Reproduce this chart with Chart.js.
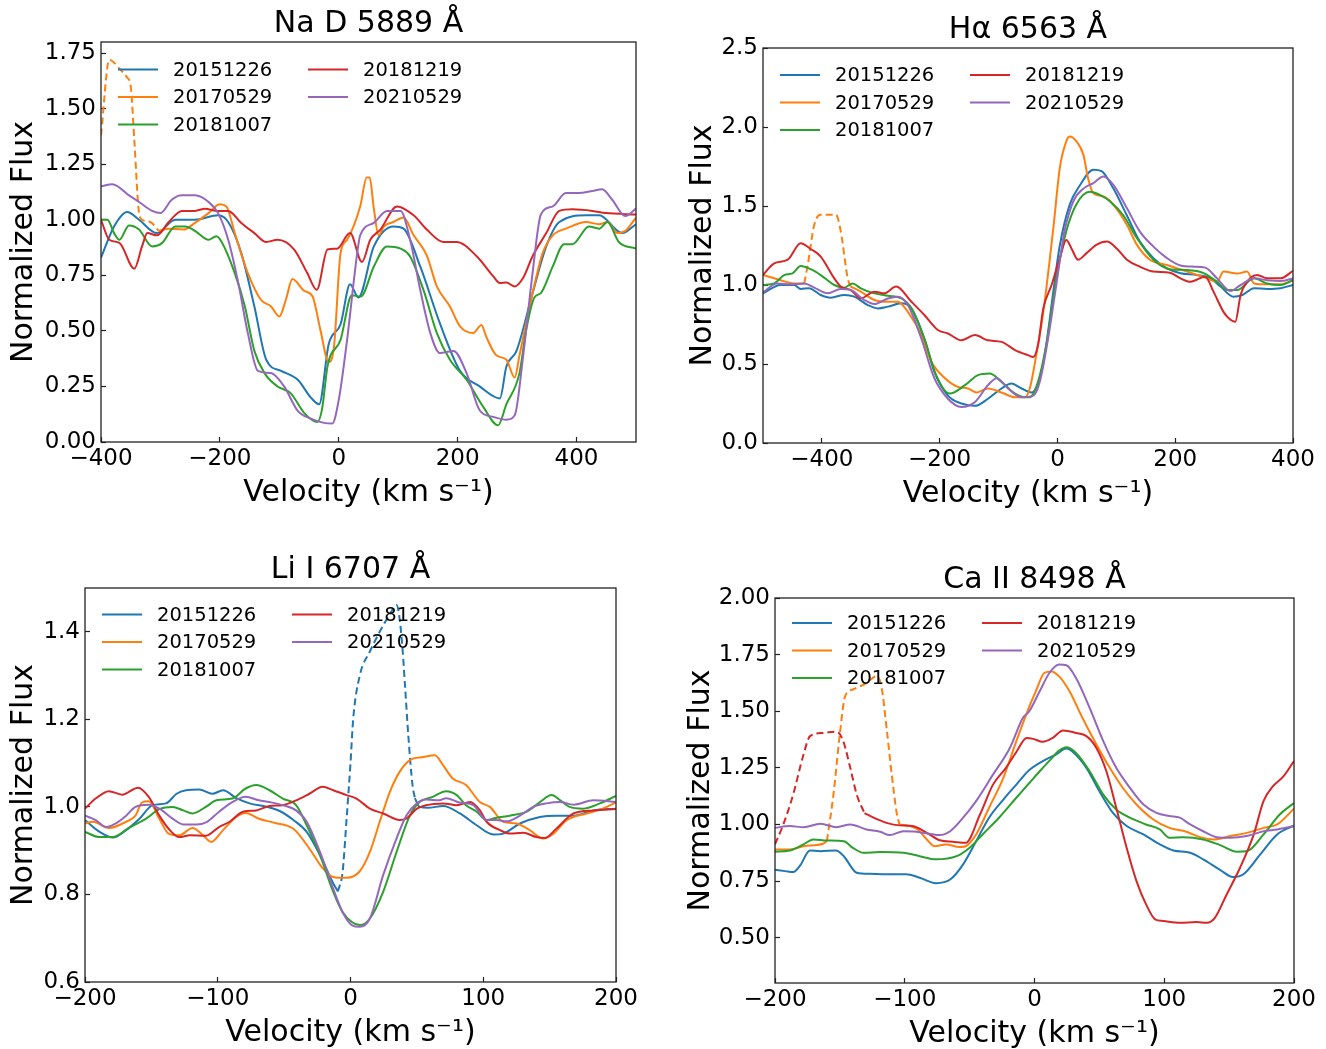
<!DOCTYPE html>
<html>
<head>
<meta charset="utf-8">
<script src="https://cdn.jsdelivr.net/npm/chart.js@4.4.1/dist/chart.umd.min.js"></script>
<style>
  body { margin: 0; background: #fff; width: 1326px; height: 1049px; overflow: hidden; position: relative; }
  canvas { position: absolute; }
</style>
</head>
<body>
<canvas id="naChart"></canvas>
<canvas id="haChart"></canvas>
<canvas id="liChart"></canvas>
<canvas id="caChart"></canvas>
<script>
"use strict";
// observation dates (legend)
const dates = ["20151226", "20170529", "20181007", "20181219", "20210529"];

// ---- Na D 5889 A : [velocity, flux]
const naBlue = [[-400,0.83],[-378,0.97],[-356,1.035],[-336,1.0],[-306,0.94],[-275,1.0],[-242,1.0],[-203,1.02],[-186,0.99],[-164,0.85],[-142,0.61],[-122,0.37],[-97,0.32],[-69,0.28],[-47,0.2],[-33,0.17],[-17,0.44],[3,0.53],[19,0.71],[33,0.65],[59,0.88],[92,0.97],[109,0.96],[137,0.79],[170,0.535],[204,0.32],[237,0.25],[271,0.196],[282,0.34],[299,0.41],[326,0.67],[349,0.88],[371,0.99],[416,1.02],[438,1.02],[477,0.94],[500,0.98]];
const naOrangeDash = [[-400,1.38],[-386,1.72],[-369,1.68],[-356,1.64],[-350,1.6],[-344,1.36],[-336,1.03],[-331,1.0],[-317,0.99],[-303,0.95]];
const naOrange = [[-303,0.95],[-286,0.96],[-261,0.956],[-242,0.986],[-219,1.03],[-200,1.07],[-189,1.06],[-175,0.94],[-153,0.76],[-131,0.64],[-114,0.61],[-100,0.565],[-89,0.64],[-78,0.733],[-58,0.68],[-44,0.655],[-31,0.505],[-17,0.36],[-8,0.43],[3,0.85],[14,0.91],[36,1.06],[47,1.19],[52,1.19],[59,1.05],[67,0.93],[76,0.97],[92,0.99],[109,1.01],[126,0.93],[148,0.84],[165,0.7],[187,0.61],[204,0.52],[226,0.49],[240,0.527],[248,0.474],[265,0.39],[282,0.37],[296,0.29],[304,0.39],[326,0.67],[343,0.85],[360,0.93],[382,0.96],[416,0.99],[438,0.98],[452,0.99],[469,0.94],[482,0.95],[500,1.01]];
const naGreen = [[-400,1.0],[-389,1.0],[-378,0.94],[-369,0.91],[-353,0.974],[-336,0.956],[-314,0.88],[-297,0.896],[-275,0.97],[-258,0.97],[-242,0.95],[-219,0.91],[-206,0.926],[-197,0.9],[-175,0.76],[-158,0.61],[-142,0.41],[-125,0.31],[-103,0.25],[-81,0.22],[-58,0.13],[-36,0.09],[-28,0.15],[-19,0.34],[3,0.46],[22,0.66],[37,0.655],[59,0.79],[81,0.88],[104,0.87],[120,0.835],[143,0.68],[165,0.49],[187,0.37],[215,0.28],[243,0.158],[268,0.075],[282,0.17],[304,0.31],[315,0.5],[329,0.65],[340,0.67],[360,0.79],[379,0.89],[393,0.89],[421,0.97],[438,0.96],[452,0.99],[471,0.9],[500,0.87]];
const naRed = [[-400,1.0],[-386,0.91],[-369,0.896],[-344,0.78],[-331,0.88],[-322,0.94],[-306,0.93],[-286,0.99],[-264,1.04],[-242,1.04],[-225,1.05],[-206,1.04],[-186,1.04],[-164,0.986],[-142,0.94],[-122,0.9],[-103,0.91],[-75,0.866],[-53,0.76],[-37,0.685],[-19,0.866],[-3,0.87],[19,0.94],[39,0.81],[53,0.91],[70,0.956],[98,1.06],[126,1.02],[148,0.956],[176,0.9],[198,0.9],[232,0.836],[260,0.745],[271,0.715],[282,0.718],[296,0.7],[310,0.738],[326,0.836],[349,0.94],[371,1.04],[393,1.047],[427,1.04],[449,1.03],[500,1.024]];
const naPurple = [[-400,1.15],[-381,1.16],[-353,1.11],[-336,1.08],[-314,1.04],[-300,1.03],[-281,1.09],[-264,1.11],[-242,1.11],[-219,1.08],[-203,1.03],[-186,0.91],[-169,0.715],[-153,0.49],[-136,0.32],[-114,0.31],[-92,0.25],[-69,0.14],[-47,0.105],[-25,0.086],[-11,0.083],[0,0.19],[14,0.46],[31,0.85],[36,0.93],[59,0.986],[81,1.04],[104,1.04],[120,0.91],[137,0.685],[154,0.49],[170,0.4],[193,0.41],[215,0.31],[237,0.143],[260,0.113],[282,0.1],[296,0.12],[310,0.384],[326,0.76],[340,1.024],[360,1.06],[382,1.12],[404,1.12],[427,1.13],[443,1.137],[460,1.09],[482,1.017],[500,1.05]];

// ---- H alpha 6563 A
const haBlue = [[-500,0.947],[-470,1.0],[-447,1.0],[-436,0.975],[-422,0.98],[-402,0.937],[-385,0.92],[-362,0.937],[-345,0.926],[-322,0.873],[-305,0.852],[-288,0.863],[-265,0.884],[-248,0.852],[-226,0.66],[-209,0.45],[-186,0.3],[-163,0.25],[-140,0.235],[-118,0.28],[-95,0.345],[-78,0.376],[-61,0.345],[-44,0.32],[-30,0.41],[-19,0.62],[-7,0.96],[4,1.25],[21,1.51],[38,1.63],[61,1.73],[75,1.72],[95,1.61],[118,1.44],[140,1.275],[163,1.17],[186,1.105],[209,1.074],[237,1.063],[260,1.042],[277,0.99],[299,0.926],[314,0.937],[334,0.98],[356,0.975],[379,0.98],[400,1.0]];
const haOrange = [[-500,1.063],[-470,1.03],[-447,1.01],[-430,1.01],[-428,null],[-351,0.99],[-334,0.958],[-311,0.905],[-288,0.894],[-271,0.894],[-254,0.83],[-231,0.683],[-214,0.514],[-191,0.41],[-169,0.355],[-152,0.345],[-137,0.32],[-118,0.345],[-95,0.32],[-72,0.29],[-55,0.29],[-47,0.345],[-36,0.556],[-24,0.83],[-7,1.36],[4,1.74],[15,1.91],[21,1.94],[32,1.91],[44,1.825],[52,1.676],[61,1.58],[78,1.56],[95,1.507],[118,1.38],[135,1.254],[157,1.16],[186,1.127],[220,1.085],[254,1.042],[271,1.02],[282,1.085],[305,1.072],[322,1.085],[334,1.01],[356,1.004],[379,1.004],[400,1.03]];
const haOrangeDash = [[-430,1.01],[-424,1.127],[-413,1.38],[-402,1.444],[-376,1.444],[-368,1.34],[-356,1.04],[-351,0.99]];
const haGreen = [[-500,1.0],[-481,1.01],[-464,1.063],[-450,1.074],[-436,1.12],[-419,1.1],[-402,1.063],[-379,1.0],[-362,0.983],[-348,1.01],[-334,0.979],[-311,0.947],[-288,0.932],[-265,0.915],[-248,0.852],[-226,0.66],[-206,0.43],[-183,0.313],[-157,0.366],[-135,0.43],[-115,0.44],[-95,0.387],[-72,0.313],[-55,0.29],[-47,0.29],[-33,0.387],[-19,0.62],[-2,1.04],[15,1.34],[32,1.51],[55,1.59],[72,1.57],[89,1.53],[112,1.44],[135,1.296],[163,1.16],[191,1.1],[220,1.095],[249,1.074],[271,1.02],[288,0.968],[305,0.968],[334,1.042],[356,1.01],[379,1.0],[400,1.03]];
const haRed = [[-500,1.063],[-481,1.137],[-458,1.16],[-436,1.264],[-419,1.228],[-402,1.18],[-379,1.042],[-368,0.99],[-351,0.968],[-334,0.915],[-311,0.958],[-294,0.947],[-274,0.99],[-248,0.894],[-226,0.81],[-203,0.715],[-186,0.693],[-163,0.65],[-140,0.683],[-118,0.65],[-95,0.64],[-72,0.588],[-50,0.556],[-41,0.545],[-33,0.62],[-24,0.852],[-10,1.0],[4,1.17],[15,1.285],[24,1.23],[35,1.16],[49,1.2],[66,1.254],[84,1.275],[101,1.23],[118,1.16],[140,1.116],[163,1.085],[191,1.078],[209,1.042],[226,1.02],[251,1.053],[265,0.958],[282,0.83],[291,0.789],[302,0.767],[311,0.937],[322,1.02],[339,1.063],[356,1.042],[379,1.042],[400,1.09]];
const haPurple = [[-500,0.953],[-476,1.01],[-453,1.004],[-430,1.01],[-413,0.983],[-390,0.947],[-368,0.975],[-351,0.968],[-328,0.905],[-311,0.88],[-288,0.915],[-271,0.926],[-254,0.873],[-231,0.66],[-209,0.41],[-186,0.28],[-163,0.228],[-140,0.26],[-118,0.366],[-103,0.41],[-84,0.345],[-61,0.29],[-41,0.3],[-30,0.387],[-16,0.66],[-2,1.0],[12,1.34],[27,1.53],[44,1.61],[61,1.645],[78,1.687],[95,1.634],[118,1.486],[140,1.338],[163,1.243],[186,1.17],[209,1.123],[232,1.116],[251,1.11],[271,1.042],[294,0.962],[311,1.0],[334,1.042],[356,1.03],[379,1.025],[400,1.042]];

// ---- Li I 6707 A
const liBlue = [[-200,0.97],[-189,0.943],[-179,0.93],[-169,0.947],[-159,0.973],[-149,1.004],[-139,1.008],[-131,1.03],[-124,1.038],[-114,1.04],[-104,1.03],[-96,1.038],[-86,1.02],[-76,1.008],[-63,1.0],[-53,0.99],[-43,0.97],[-33,0.943],[-23,0.89],[-13,0.825],[-9.5,0.807],[-5,null],[48.5,1.02],[52,1.0],[58.5,0.998],[69.8,1.002],[82.4,0.985],[95,0.958],[107.5,0.937],[115,0.939],[127.6,0.962],[142.7,0.977],[155,0.98],[168,0.98],[183,0.992],[200,0.996]];
const liBlueDash = [[-9.5,0.807],[-6,0.85],[-3,0.97],[0,1.1],[2,1.2],[7,1.3],[14.6,1.355],[22,1.4],[29.6,1.44],[34.7,1.461],[38.4,1.39],[41,1.28],[43.5,1.165],[46.7,1.05],[48.5,1.02]];
const liOrange = [[-200,0.962],[-194,0.966],[-182,0.952],[-169,0.966],[-162,0.98],[-157,1.01],[-152,1.013],[-144,0.973],[-137,0.939],[-129,0.935],[-119,0.952],[-111,0.935],[-105,0.92],[-96,0.947],[-86,0.977],[-79,0.986],[-69,0.973],[-58,0.964],[-43,0.95],[-31,0.905],[-21,0.86],[-13,0.84],[-3,0.838],[7,0.853],[14.6,0.897],[22,0.966],[29.6,1.034],[37,1.08],[44.7,1.107],[54.8,1.114],[63.6,1.118],[69.8,1.095],[77,1.065],[87,1.05],[97.5,1.011],[105,1.0],[115,0.966],[125,0.962],[135,0.947],[145,0.928],[153,0.939],[163,0.97],[178,0.985],[190,0.996],[200,1.01]];
const liGreen = [[-200,0.943],[-189,0.931],[-179,0.931],[-167,0.952],[-154,0.973],[-144,0.995],[-134,1.0],[-126,0.992],[-119,0.985],[-109,1.0],[-101,1.015],[-89,1.019],[-79,1.042],[-71,1.05],[-61,1.038],[-51,1.019],[-41,1.004],[-33,0.958],[-23,0.89],[-13,0.806],[-6,0.76],[1,0.737],[7,0.73],[14.6,0.745],[24.6,0.806],[34.7,0.897],[44.7,0.98],[52,1.011],[62,1.023],[72,1.036],[80,1.027],[87,1.004],[95,0.989],[102.5,0.97],[110,0.975],[120,0.98],[132.7,0.989],[142.7,1.011],[151.5,1.027],[158,1.015],[165,1.0],[175,0.996],[188,1.008],[200,1.025]];
const liRed = [[-200,0.996],[-192,1.019],[-182,1.036],[-172,1.028],[-160,1.044],[-152,1.023],[-144,0.98],[-137,0.95],[-129,0.931],[-121,0.935],[-109,0.934],[-99,0.954],[-91,0.966],[-81,0.989],[-71,0.992],[-61,1.002],[-51,1.004],[-41,1.015],[-31,1.03],[-21,1.046],[-13,1.038],[-3,1.027],[4.5,1.019],[14.6,0.996],[24.6,0.985],[37,0.97],[42,0.973],[50,0.996],[57,1.004],[70,1.008],[80,1.004],[90,1.011],[97.5,0.992],[102.5,0.966],[112.6,0.947],[120,0.939],[130,0.941],[140,0.931],[146.5,0.929],[155,0.95],[168,0.985],[183,0.992],[200,0.995]];
const liPurple = [[-200,0.98],[-192,0.97],[-184,0.954],[-177,0.962],[-169,0.98],[-162,1.0],[-152,1.005],[-144,0.996],[-134,0.973],[-126,0.96],[-116,0.96],[-108,0.966],[-99,0.989],[-89,1.011],[-79,1.023],[-69,1.015],[-61,1.011],[-51,1.004],[-41,0.992],[-33,0.966],[-23,0.897],[-13,0.813],[-6,0.76],[1,0.73],[7,0.726],[14.6,0.745],[24.6,0.844],[34.7,0.928],[42,0.98],[50,1.008],[57,1.017],[67,1.015],[72,1.02],[82,1.01],[92.5,1.004],[102.5,0.97],[110,0.97],[117.6,0.967],[127.6,0.98],[137.7,1.0],[147.7,1.008],[158,1.011],[168,1.005],[183,1.015],[200,1.011]];

// ---- Ca II 8498 A
const caBlue = [[-200,0.8],[-192,0.794],[-186,0.79],[-181,0.816],[-173,0.885],[-165,0.882],[-153,0.885],[-147,0.86],[-137,0.787],[-127,0.782],[-114,0.78],[-99,0.78],[-88.5,0.765],[-76,0.741],[-65,0.757],[-55,0.824],[-45,0.926],[-35,1.03],[-24,1.11],[-14,1.176],[-4,1.24],[6.4,1.28],[16.8,1.31],[24.5,1.335],[29.6,1.32],[40,1.25],[50,1.147],[60.6,1.05],[71,0.993],[84,0.956],[96.6,0.912],[107,0.885],[120,0.875],[130,0.846],[143,0.8],[153,0.768],[161,0.78],[174,0.868],[187,0.956],[200,0.995]];
const caOrange = [[-200,0.89],[-188.5,0.89],[-178,0.904],[-163,0.915],[-160,0.926],[-158,null],[-104,1.0],[-96,0.993],[-90,0.978],[-83,0.934],[-77,0.904],[-68,0.912],[-58,0.9],[-53,0.904],[-45,0.956],[-35,1.074],[-24,1.206],[-14,1.368],[-4,1.52],[1,1.588],[7.7,1.67],[13,1.676],[19,1.654],[27,1.588],[37,1.47],[47.7,1.353],[58,1.25],[68,1.162],[78.6,1.088],[91.5,1.022],[104,0.985],[117,0.968],[127.6,0.944],[138,0.934],[151,0.949],[163.6,0.963],[176.5,0.985],[187,1.0],[200,1.07]];
const caOrangeDash = [[-160,0.926],[-155,1.13],[-150,1.4],[-146,1.566],[-140,1.596],[-129.5,1.625],[-122,1.654],[-118,1.61],[-114,1.426],[-110,1.22],[-106,1.044],[-104,1.0]];
const caGreen = [[-200,0.88],[-188.5,0.885],[-178,0.912],[-170.5,0.934],[-160,0.929],[-147,0.926],[-140,0.897],[-132,0.875],[-119,0.878],[-101,0.875],[-88.5,0.86],[-76,0.846],[-60,0.86],[-50,0.897],[-40,0.956],[-27,1.032],[-14,1.118],[-4,1.183],[4,1.235],[11.6,1.282],[19,1.326],[24.5,1.341],[32,1.316],[42.5,1.235],[53,1.132],[63,1.066],[73.5,1.03],[86,1.0],[96.6,0.978],[104,0.941],[114.7,0.944],[130,0.934],[143,0.909],[156,0.88],[163.6,0.882],[176.5,0.956],[189,1.044],[200,1.095]];
const caRedDash = [[-200,0.912],[-193.6,1.0],[-186,1.132],[-178,1.309],[-173,1.39],[-163,1.404],[-152.6,1.41],[-147.4,1.368],[-142,1.25],[-137,1.132],[-131,1.05]];
const caRed = [[-131,1.05],[-124,1.03],[-114,1.007],[-104,0.996],[-94,0.993],[-83,0.963],[-73,0.93],[-63,0.924],[-53,0.919],[-42,1.044],[-32,1.176],[-22,1.25],[-14,1.32],[-6,1.382],[-1,1.378],[6.4,1.365],[14,1.382],[22,1.415],[32,1.404],[40,1.39],[47.7,1.338],[55.4,1.235],[63,1.074],[71,0.897],[78.6,0.75],[86,0.647],[93,0.581],[99,0.574],[112,0.566],[125,0.569],[132.7,0.566],[139,0.588],[148,0.69],[158.5,0.81],[169,0.956],[176.5,1.103],[184,1.17],[192,1.213],[200,1.28]];
const caPurple = [[-200,0.985],[-188.5,0.993],[-178,0.988],[-165,1.003],[-152.6,0.988],[-142,1.0],[-129.5,0.978],[-119,0.968],[-111.5,0.953],[-101,0.97],[-91,0.968],[-81,0.959],[-73,0.953],[-65,0.97],[-55,1.03],[-45,1.103],[-32,1.22],[-19,1.338],[-9,1.47],[-4,1.5],[4,1.588],[11.6,1.67],[19,1.706],[24.5,1.703],[32,1.647],[42.5,1.515],[53,1.368],[63,1.25],[73.5,1.162],[84,1.088],[94,1.051],[104,1.037],[112,1.03],[120,1.0],[130,0.97],[140.5,0.944],[151,0.941],[163.6,0.949],[176.5,0.97],[187,0.978],[200,0.993]];

// tick values
const naXTicks = [-400, -200, 0, 200, 400];
const naYTicks = [0, 0.25, 0.5, 0.75, 1.0, 1.25, 1.5, 1.75];
const haXTicks = [-400, -200, 0, 200, 400];
const haYTicks = [0, 0.5, 1.0, 1.5, 2.0, 2.5];
const liXTicks = [-200, -100, 0, 100, 200];
const liYTicks = [0.6, 0.8, 1.0, 1.2, 1.4];
const caXTicks = [-200, -100, 0, 100, 200];
const caYTicks = [0.5, 0.75, 1.0, 1.25, 1.5, 1.75, 2.0];

const COLORS = ["#1f77b4", "#ff7f0e", "#2ca02c", "#d62728", "#9467bd"];
const FONT = '"DejaVu Sans", sans-serif';
Chart.defaults.font.family = FONT;
Chart.defaults.color = "#000";

const TOP_H = 50;
const BOT_H = 66;

const pts = (arr) => arr.map(([x, y]) => ({ x, y }));
const fmt = (v, dec) => v.toFixed(dec).replace("-", "\u2212");

const makeLine = (arr, ci, dashed) => ({
    data: pts(arr),
    borderColor: COLORS[ci],
    borderWidth: 2,
    borderDash: dashed ? [7, 4] : [],
    pointRadius: 0,
    fill: false,
    cubicInterpolationMode: "monotone",
    order: 4 - ci,
});

// box around the plot and the two-column legend (matplotlib style)
const framePlugin = {
    id: "frame",
    afterDatasetsDraw(chart, args, opts) {
        const { ctx, chartArea: a } = chart;
        ctx.save();
        ctx.strokeStyle = "#222";
        ctx.lineWidth = 1.3;
        ctx.strokeRect(a.left, a.top, a.right - a.left, a.bottom - a.top);
        ctx.font = "19.5px " + FONT;
        ctx.textBaseline = "middle";
        ctx.fillStyle = "#000";
        dates.forEach((d, i) => {
            const col = i < 3 ? 0 : 1;
            const row = i < 3 ? i : i - 3;
            const x0 = a.left + (col ? 207 : 17);
            const y = a.top + opts.legY + row * 27.5;
            ctx.strokeStyle = COLORS[i];
            ctx.lineWidth = 2;
            ctx.beginPath();
            ctx.moveTo(x0, y);
            ctx.lineTo(x0 + 40, y);
            ctx.stroke();
            ctx.fillText(d, x0 + 55, y + 1);
        });
        ctx.restore();
    },
};

const makePanel = (p) => {
    const [L, T, R, B] = p.box;
    const S = p.side;
    const W = R - L + 2 * S;
    const H = B - T + TOP_H + BOT_H;
    const cv = document.getElementById(p.id);
    cv.width = W;
    cv.height = H;
    cv.style.left = (L - S) + "px";
    cv.style.top = (T - TOP_H) + "px";
    cv.style.width = W + "px";
    cv.style.height = H + "px";

    const titleLh = 30;
    const titleBottom = 17.5 - titleLh / 2;
    const yTitleLh = 30 * 1.2;

    const tickGrid = { drawOnChartArea: false, drawTicks: true, tickLength: -5, tickWidth: 1.2, tickColor: "#222" };

    new Chart(cv, {
        type: "line",
        data: { datasets: p.lines },
        options: {
            responsive: false,
            animation: false,
            events: [],
            layout: { padding: { left: 0, right: S, top: 0, bottom: 0 } },
            plugins: {
                legend: { display: false },
                tooltip: { enabled: false },
                frame: { legY: p.legY },
                title: {
                    display: true,
                    fullSize: false,
                    text: p.title,
                    color: "#000",
                    font: { size: 30, weight: "normal", lineHeight: 1 },
                    padding: { top: TOP_H - titleLh - titleBottom, bottom: titleBottom },
                },
            },
            scales: {
                x: {
                    type: "linear",
                    min: p.xRange[0],
                    max: p.xRange[1],
                    border: { display: false },
                    grid: tickGrid,
                    afterBuildTicks: (s) => { s.ticks = p.xTicks.map((v) => ({ value: v })); },
                    afterFit: (s) => { s.height = BOT_H; },
                    ticks: { padding: 8, maxRotation: 0, autoSkip: false, font: { size: 23 }, color: "#000", callback: (v) => fmt(v, 0) },
                    title: {
                        display: true,
                        text: "Velocity (km s\u207B\u00B9)",
                        color: "#000",
                        font: { size: 30, lineHeight: 1 },
                        padding: { top: 0, bottom: BOT_H - 51 - 15 },
                    },
                },
                y: {
                    type: "linear",
                    min: p.yRange[0],
                    max: p.yRange[1],
                    border: { display: false },
                    grid: tickGrid,
                    afterBuildTicks: (s) => { s.ticks = p.yTicks.map((v) => ({ value: v })); },
                    afterFit: (s) => { s.width = S; },
                    ticks: { padding: 10, font: { size: 23 }, color: "#000", callback: (v) => fmt(v, p.yDec) },
                    title: {
                        display: true,
                        text: "Normalized Flux",
                        color: "#000",
                        font: { size: 30, lineHeight: 1.2 },
                        padding: { top: S - p.yLabOff - yTitleLh / 2, bottom: 0 },
                    },
                },
            },
        },
        plugins: [framePlugin],
    });
};

const loadCharts = () => {
    makePanel({
        id: "naChart", title: "Na D 5889 \u00C5", box: [101, 42, 636, 442], side: 100, legY: 27.5,
        xRange: [-400, 500], xTicks: naXTicks, yRange: [0, 1.8], yTicks: naYTicks, yDec: 2, yLabOff: 77,
        lines: [
            makeLine(naBlue, 0), makeLine(naOrange, 1), makeLine(naOrangeDash, 1, true),
            makeLine(naGreen, 2), makeLine(naRed, 3), makeLine(naPurple, 4),
        ],
    });
    makePanel({
        id: "haChart", title: "H\u03B1 6563 \u00C5", box: [763, 48, 1293, 443], side: 90, legY: 27,
        xRange: [-500, 400], xTicks: haXTicks, yRange: [0, 2.5], yTicks: haYTicks, yDec: 1, yLabOff: 60,
        lines: [
            makeLine(haBlue, 0), makeLine(haOrange, 1), makeLine(haOrangeDash, 1, true),
            makeLine(haGreen, 2), makeLine(haRed, 3), makeLine(haPurple, 4),
        ],
    });
    makePanel({
        id: "liChart", title: "Li I 6707 \u00C5", box: [85, 588, 616, 982], side: 85, legY: 26.5,
        xRange: [-200, 200], xTicks: liXTicks, yRange: [0.6, 1.5], yTicks: liYTicks, yDec: 1, yLabOff: 61,
        lines: [
            makeLine(liBlue, 0), makeLine(liBlueDash, 0, true), makeLine(liOrange, 1),
            makeLine(liGreen, 2), makeLine(liRed, 3), makeLine(liPurple, 4),
        ],
    });
    makePanel({
        id: "caChart", title: "Ca II 8498 \u00C5", box: [775, 598, 1294, 983], side: 95, legY: 25,
        xRange: [-200, 200], xTicks: caXTicks, yRange: [0.3, 2.0], yTicks: caYTicks, yDec: 2, yLabOff: 74,
        lines: [
            makeLine(caBlue, 0), makeLine(caOrange, 1), makeLine(caOrangeDash, 1, true),
            makeLine(caGreen, 2), makeLine(caRedDash, 3, true), makeLine(caRed, 3), makeLine(caPurple, 4),
        ],
    });
};
window.addEventListener("load", loadCharts);
</script>
</body>
</html>
